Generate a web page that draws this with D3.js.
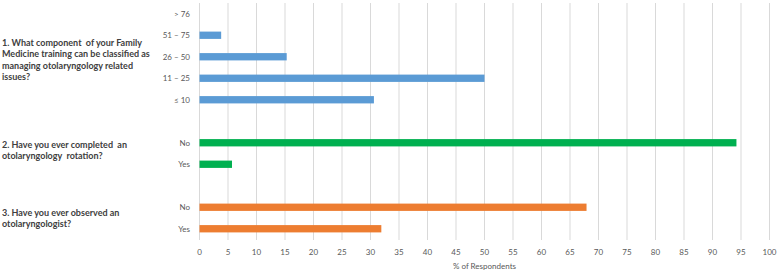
<!DOCTYPE html>
<html>
<head>
<meta charset="utf-8">
<script src="https://cdn.jsdelivr.net/npm/d3@7"></script>
<style>
  body { margin: 0; background: #fff; }
  text { font-family: Lato, "Open Sans", sans-serif; white-space: pre; }
</style>
</head>
<body>
<script>
// Datos (% de encuestados)
const q1Labels = ["> 76", "51 \u2013 75", "26 \u2013 50", "11 \u2013 25", "\u2264 10"];
const q1Values = [0, 3.8, 15.3, 50, 30.6];
const q2Labels = ["No", "Yes"];
const q2Values = [94.2, 5.7];
const q3Labels = ["No", "Yes"];
const q3Values = [67.9, 31.9];
const questions = [
  ["1. What component  of your Family", "Medicine training can be classified as", "managing otolaryngology related", "issues?"],
  ["2. Have you ever completed  an", "otolaryngology  rotation?"],
  ["3. Have you ever observed an", "otolaryngologist?"]
];
const colors = ["#5B9BD5", "#00B050", "#ED7D31"];
const xTicks = d3.range(0, 101, 5);

width = 778;
height = 272;
margin = {top: 3, right: 8, bottom: 32, left: 199.5};

// filas: cada grupo seguido de un hueco vacio
groups = [[q1Labels, q1Values], [q2Labels, q2Values], [q3Labels, q3Values]];
rows = [];
groups.forEach(([labels, values], g) => {
  labels.forEach((l, i) => rows.push({key: g + "-" + i, label: l, value: values[i], group: g}));
  if (g < groups.length - 1) rows.push({key: "gap" + g, label: "", value: null, group: g});
});

svg = d3.select("body").append("svg")
  .attr("width", width)
  .attr("height", height);

x = d3.scaleLinear().domain([0, 100]).range([margin.left, 769.5]);
y = d3.scaleBand().domain(rows.map(d => d.key))
  .range([margin.top, height - margin.bottom - 0.5])
  .paddingInner(0.66).paddingOuter(0.33);

// Lineas de cuadricula verticales
svg.append("g")
  .selectAll("line")
  .data(xTicks)
  .join("line")
  .attr("x1", d => x(d)).attr("x2", d => x(d))
  .attr("y1", margin.top).attr("y2", height - margin.bottom)
  .attr("stroke", "#d9d9d9")
  .attr("stroke-width", 1);

// Etiquetas del eje x
svg.append("g")
  .selectAll("text")
  .data(xTicks)
  .join("text")
  .attr("x", d => x(d))
  .attr("y", 255)
  .attr("text-anchor", "middle")
  .attr("font-size", 8)
  .attr("fill", "#595959")
  .text(d => d);

svg.append("text")
  .attr("x", (x(0) + x(100)) / 2)
  .attr("y", 269)
  .attr("text-anchor", "middle")
  .attr("font-size", 8)
  .attr("fill", "#595959")
  .text("% of Respondents");

// Barras
bars = rows.filter(d => d.value !== null);
svg.append("g")
  .selectAll("rect")
  .data(bars)
  .join("rect")
  .attr("x", x(0))
  .attr("y", d => y(d.key))
  .attr("width", d => x(d.value) - x(0))
  .attr("height", y.bandwidth())
  .attr("fill", d => colors[d.group]);

// Etiquetas de categoria
svg.append("g")
  .selectAll("text")
  .data(bars)
  .join("text")
  .attr("x", 190)
  .attr("y", d => y(d.key) + y.bandwidth() / 2)
  .attr("dy", "0.35em")
  .attr("text-anchor", "end")
  .attr("font-size", 8)
  .attr("fill", "#595959")
  .text(d => d.label);

// Texto de las preguntas, junto a cada grupo
lineH = 11.3;
shift = [3, -3, 0]; // ajuste vertical de cada bloque
questions.forEach((lines, g) => {
  gRows = rows.filter(d => d.group === g && d.value !== null);
  cy = (y(gRows[0].key) + y(gRows[gRows.length - 1].key) + y.bandwidth()) / 2;
  t = svg.append("text")
    .attr("x", 2)
    .attr("y", cy - (lines.length - 1) * lineH / 2 + shift[g])
    .attr("font-size", 9)
    .attr("font-weight", "bold")
    .attr("fill", "#404040");
  lines.forEach((l, i) => {
    t.append("tspan").attr("x", 2).attr("dy", i === 0 ? "0.35em" : lineH).text(l);
  });
});
</script>
</body>
</html>
